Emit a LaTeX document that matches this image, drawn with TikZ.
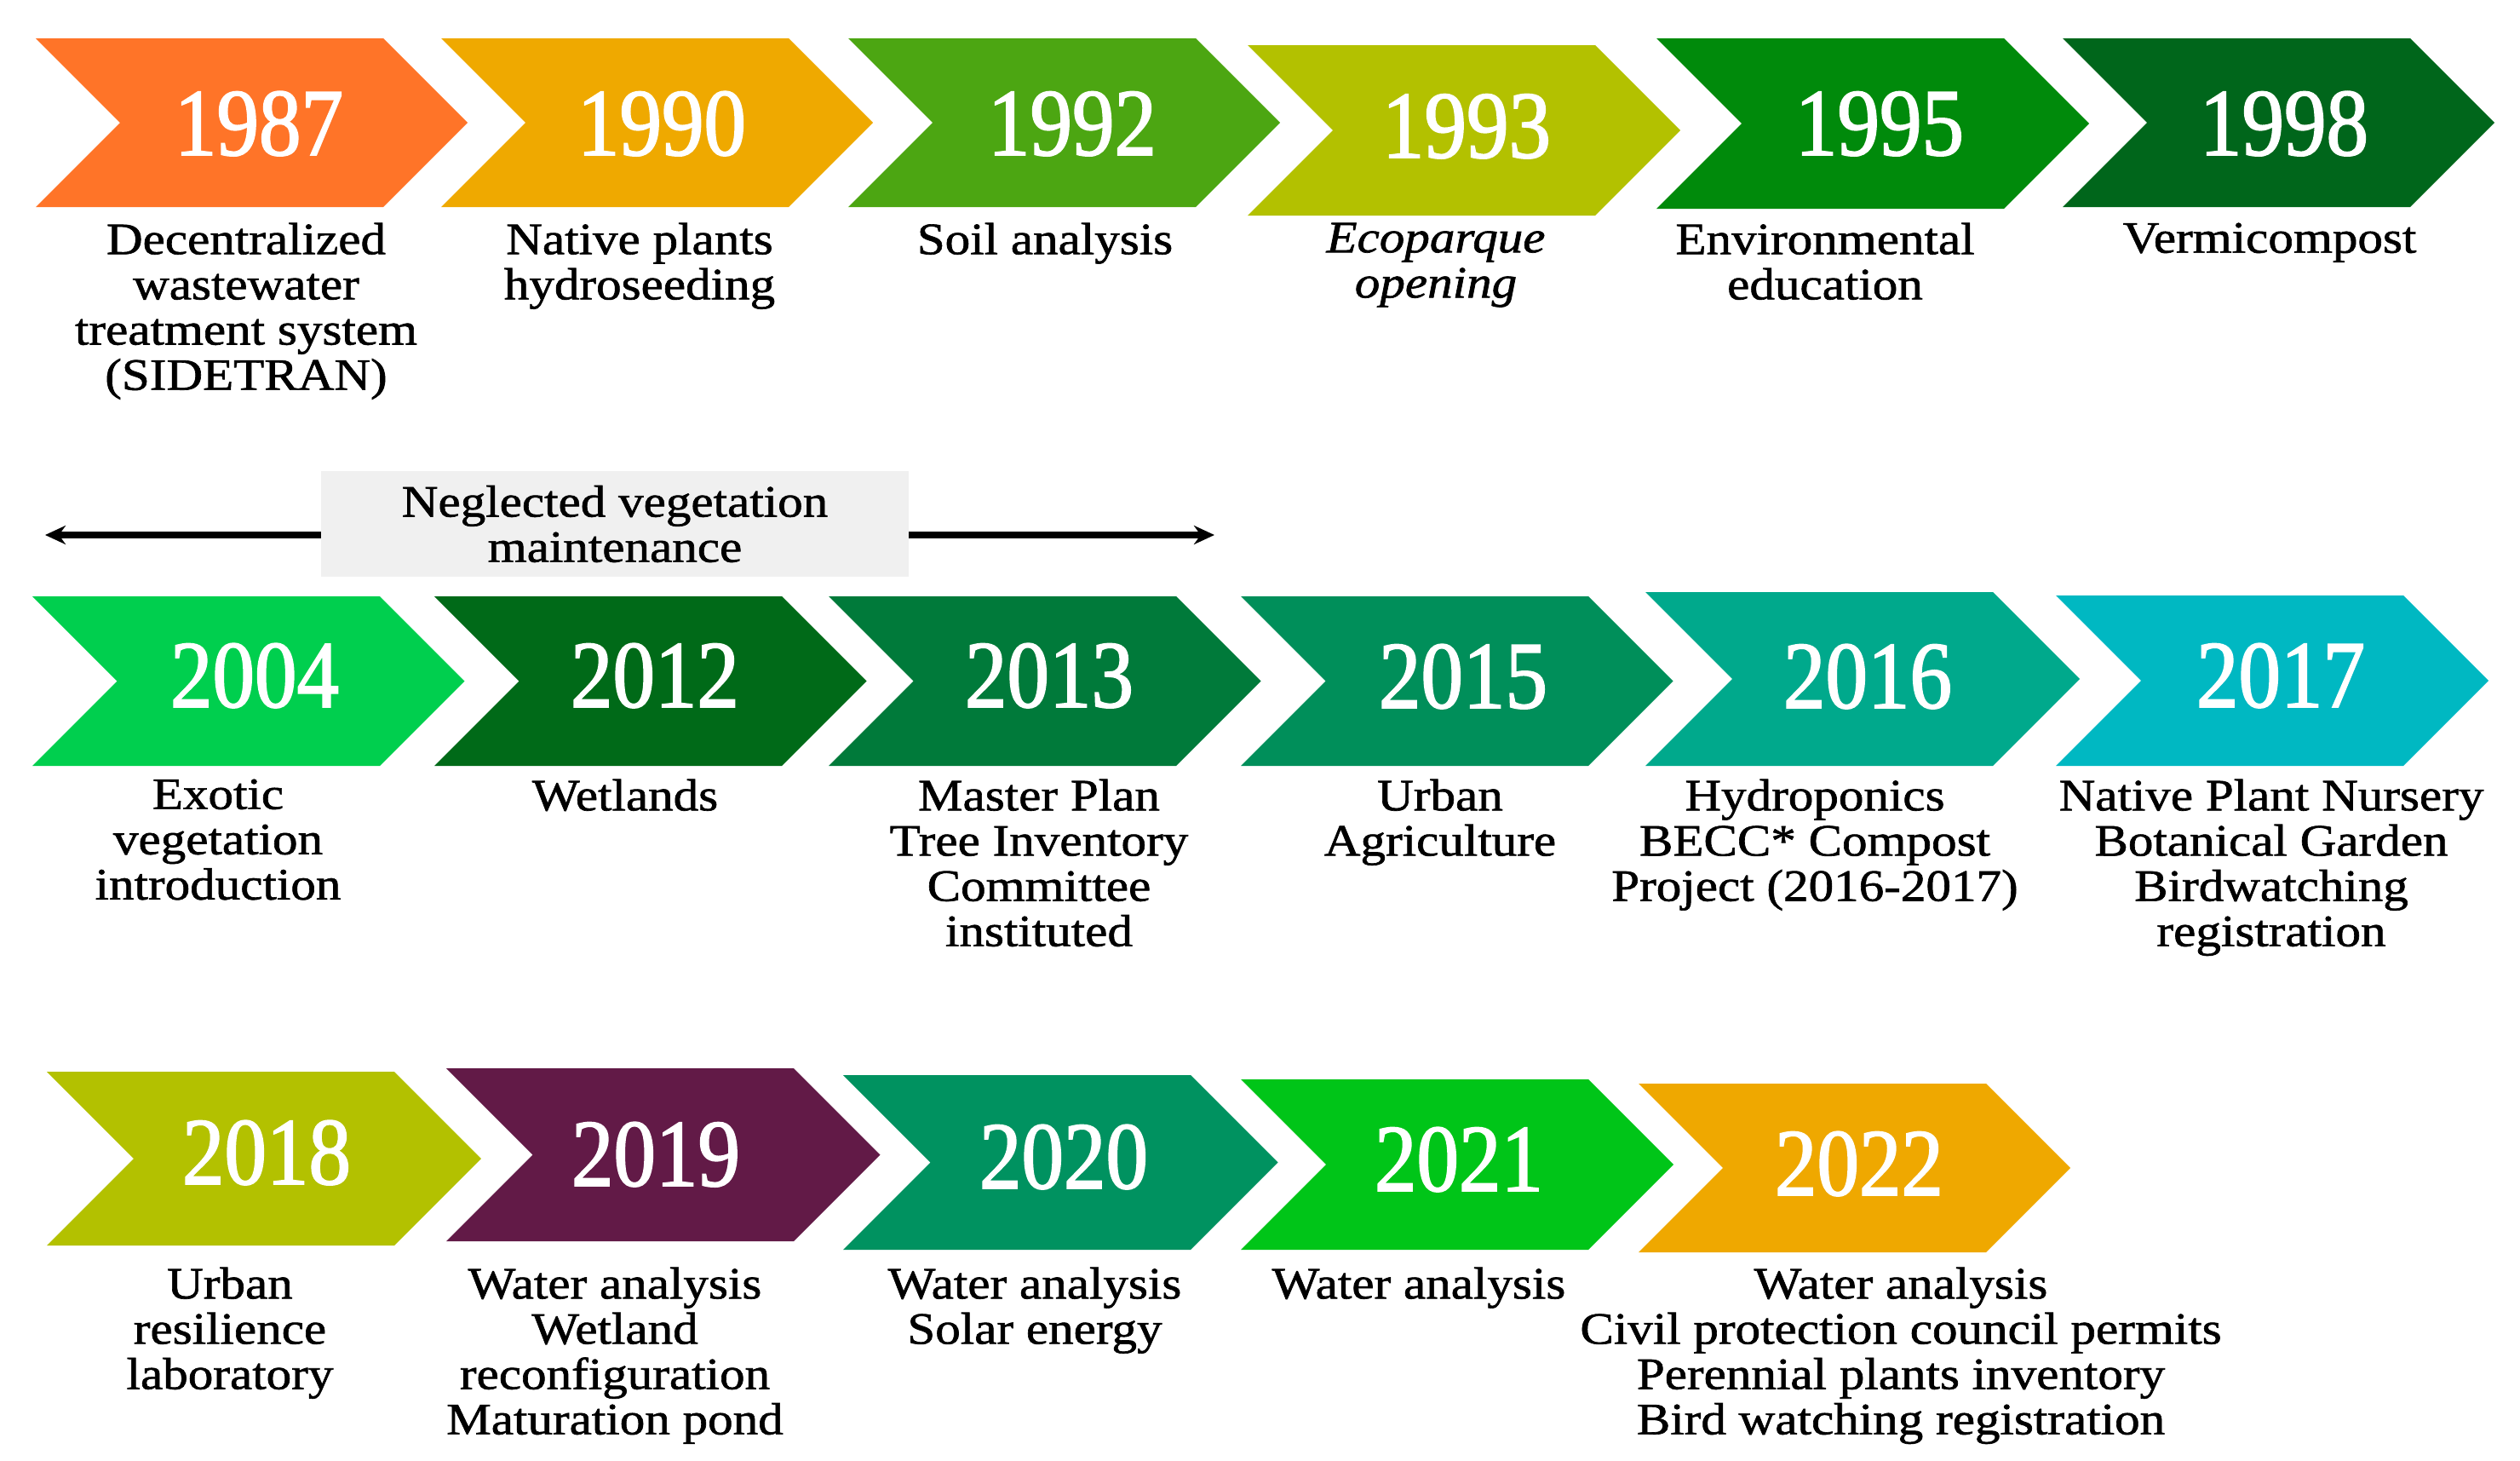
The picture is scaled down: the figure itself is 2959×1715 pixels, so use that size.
\documentclass[tikz,border=0pt]{standalone}
\usepackage{fontspec}
\setmainfont{Liberation Serif}[FakeStretch=1.12, FakeBold=1.2]
\newfontfamily\yearfont{Liberation Serif}[FakeStretch=0.88, FakeBold=1.6]
\usetikzlibrary{arrows.meta}
\definecolor{c1987}{HTML}{FF7428}
\definecolor{c1990}{HTML}{EFA900}
\definecolor{c1992}{HTML}{4CA612}
\definecolor{c1993}{HTML}{B3C100}
\definecolor{c1995}{HTML}{008A0B}
\definecolor{c1998}{HTML}{00661B}
\definecolor{c2004}{HTML}{00CF4E}
\definecolor{c2012}{HTML}{006A18}
\definecolor{c2013}{HTML}{007A3A}
\definecolor{c2015}{HTML}{008F5A}
\definecolor{c2016}{HTML}{00A98C}
\definecolor{c2017}{HTML}{00B8C2}
\definecolor{c2018}{HTML}{B3C100}
\definecolor{c2019}{HTML}{621A47}
\definecolor{c2020}{HTML}{009260}
\definecolor{c2021}{HTML}{00C518}
\definecolor{c2022}{HTML}{EFA800}
\definecolor{negfill}{HTML}{F0F0F0}
\newcommand\mychev[4]{%
  \pgfmathsetmacro\cL{#1}\pgfmathsetmacro\cT{#2}\pgfmathsetmacro\cB{#3}%
  \pgfmathsetmacro\cM{(#2+#3)/2}\pgfmathsetmacro\cD{(#3-#2)/2}%
  \fill[#4] (\cL,\cT) -- ({\cL+408},\cT) -- ({\cL+408+\cD},\cM) -- ({\cL+408},\cB) -- (\cL,\cB) -- ({\cL+\cD},\cM) -- cycle;}
\begin{document}
\begin{tikzpicture}[x=0.01cm,y=-0.01cm,
  yr/.style={anchor=base, text=white, inner sep=0, font=\yearfont\fontsize{32}{32}\selectfont},
  desc/.style={anchor=north, align=center, inner sep=0, text=black, font=\fontsize{15}{15.1}\selectfont},
  arr/.style={line width=2.2pt, -{Stealth[length=0.24cm,width=0.22cm]}}]
\useasboundingbox (0,0) rectangle (2959,1715);
% Row 1
\mychev{42}{45}{243}{c1987}
\mychev{518}{45}{243}{c1990}
\mychev{996}{45}{243}{c1992}
\mychev{1465}{53}{253}{c1993}
\mychev{1945}{45}{245}{c1995}
\mychev{2422}{45}{243}{c1998}
\node[yr] (y1987) at (304,182) {1987};
\node[yr] (y1990) at (777,182) {1990};
\node[yr] (y1992) at (1259,182) {1992};
\node[yr] (y1993) at (1722,185) {1993};
\node[yr] (y1995) at (2207,182) {1995};
\node[yr] (y1998) at (2682,182) {1998};
\node[desc] (d1987) at (289,261) {Decentralized\\wastewater\\treatment system\\(SIDETRAN)};
\node[desc] (d1990) at (751,261) {Native plants\\hydroseeding};
\node[desc] (d1992) at (1227,261) {Soil analysis};
\node[desc] (d1993) at (1686,261) {\itshape Ecoparque\\\itshape opening};
\node[desc] (d1995) at (2143,261) {Environmental\\education};
\node[desc] (d1998) at (2665,261) {Vermicompost};
% Neglected
\node[fill=negfill, minimum width=6.89cm, minimum height=1.24cm, align=center, inner sep=0,
      font=\fontsize{15}{15.1}\selectfont] (neg) at (722,615) {Neglected vegetation\\maintenance};
\coordinate (aL) at (53,628);
\coordinate (aR) at (1426,628);
\draw[arr] (neg.west |- aL) -- (aL);
\draw[arr] (neg.east |- aR) -- (aR);
% Row 2
\mychev{38}{700}{899}{c2004}
\mychev{510}{700}{899}{c2012}
\mychev{973}{700}{899}{c2013}
\mychev{1457}{700}{899}{c2015}
\mychev{1932}{695}{899}{c2016}
\mychev{2414}{699}{899}{c2017}
\node[yr] (y2004) at (299,830) {2004};
\node[yr] (y2012) at (769,830) {2012};
\node[yr] (y2013) at (1232,830) {2013};
\node[yr] (y2015) at (1718,831) {2015};
\node[yr] (y2016) at (2193,831) {2016};
\node[yr] (y2017) at (2678,830) {2017};
\node[desc] (d2004) at (256,914) {Exotic\\vegetation\\introduction};
\node[desc] (d2012) at (734,914) {Wetlands};
\node[desc] (d2013) at (1220,914) {Master Plan\\Tree Inventory\\Committee\\instituted};
\node[desc] (d2015) at (1691,914) {Urban\\Agriculture};
\node[desc] (d2016) at (2131,914) {Hydroponics\\BECC* Compost\\Project (2016-2017)};
\node[desc] (d2017) at (2667,914) {Native Plant Nursery\\Botanical Garden\\Birdwatching\\registration};
% Row 3
\mychev{55}{1258}{1462}{c2018}
\mychev{524}{1254}{1457}{c2019}
\mychev{990}{1262}{1467}{c2020}
\mychev{1457}{1267}{1467}{c2021}
\mychev{1924}{1272}{1470}{c2022}
\node[yr] (y2018) at (313,1390) {2018};
\node[yr] (y2019) at (770,1392) {2019};
\node[yr] (y2020) at (1249,1395) {2020};
\node[yr] (y2021) at (1713,1398) {2021};
\node[yr] (y2022) at (2183,1403) {2022};
\node[desc] (d2018) at (270,1487) {Urban\\resilience\\laboratory};
\node[desc] (d2019) at (722,1487) {Water analysis\\Wetland\\reconfiguration\\Maturation pond};
\node[desc] (d2020) at (1215,1487) {Water analysis\\Solar energy};
\node[desc] (d2021) at (1666,1487) {Water analysis};
\node[desc] (d2022) at (2232,1487) {Water analysis\\Civil protection council permits\\Perennial plants inventory\\Bird watching registration};
\end{tikzpicture}
\end{document}
